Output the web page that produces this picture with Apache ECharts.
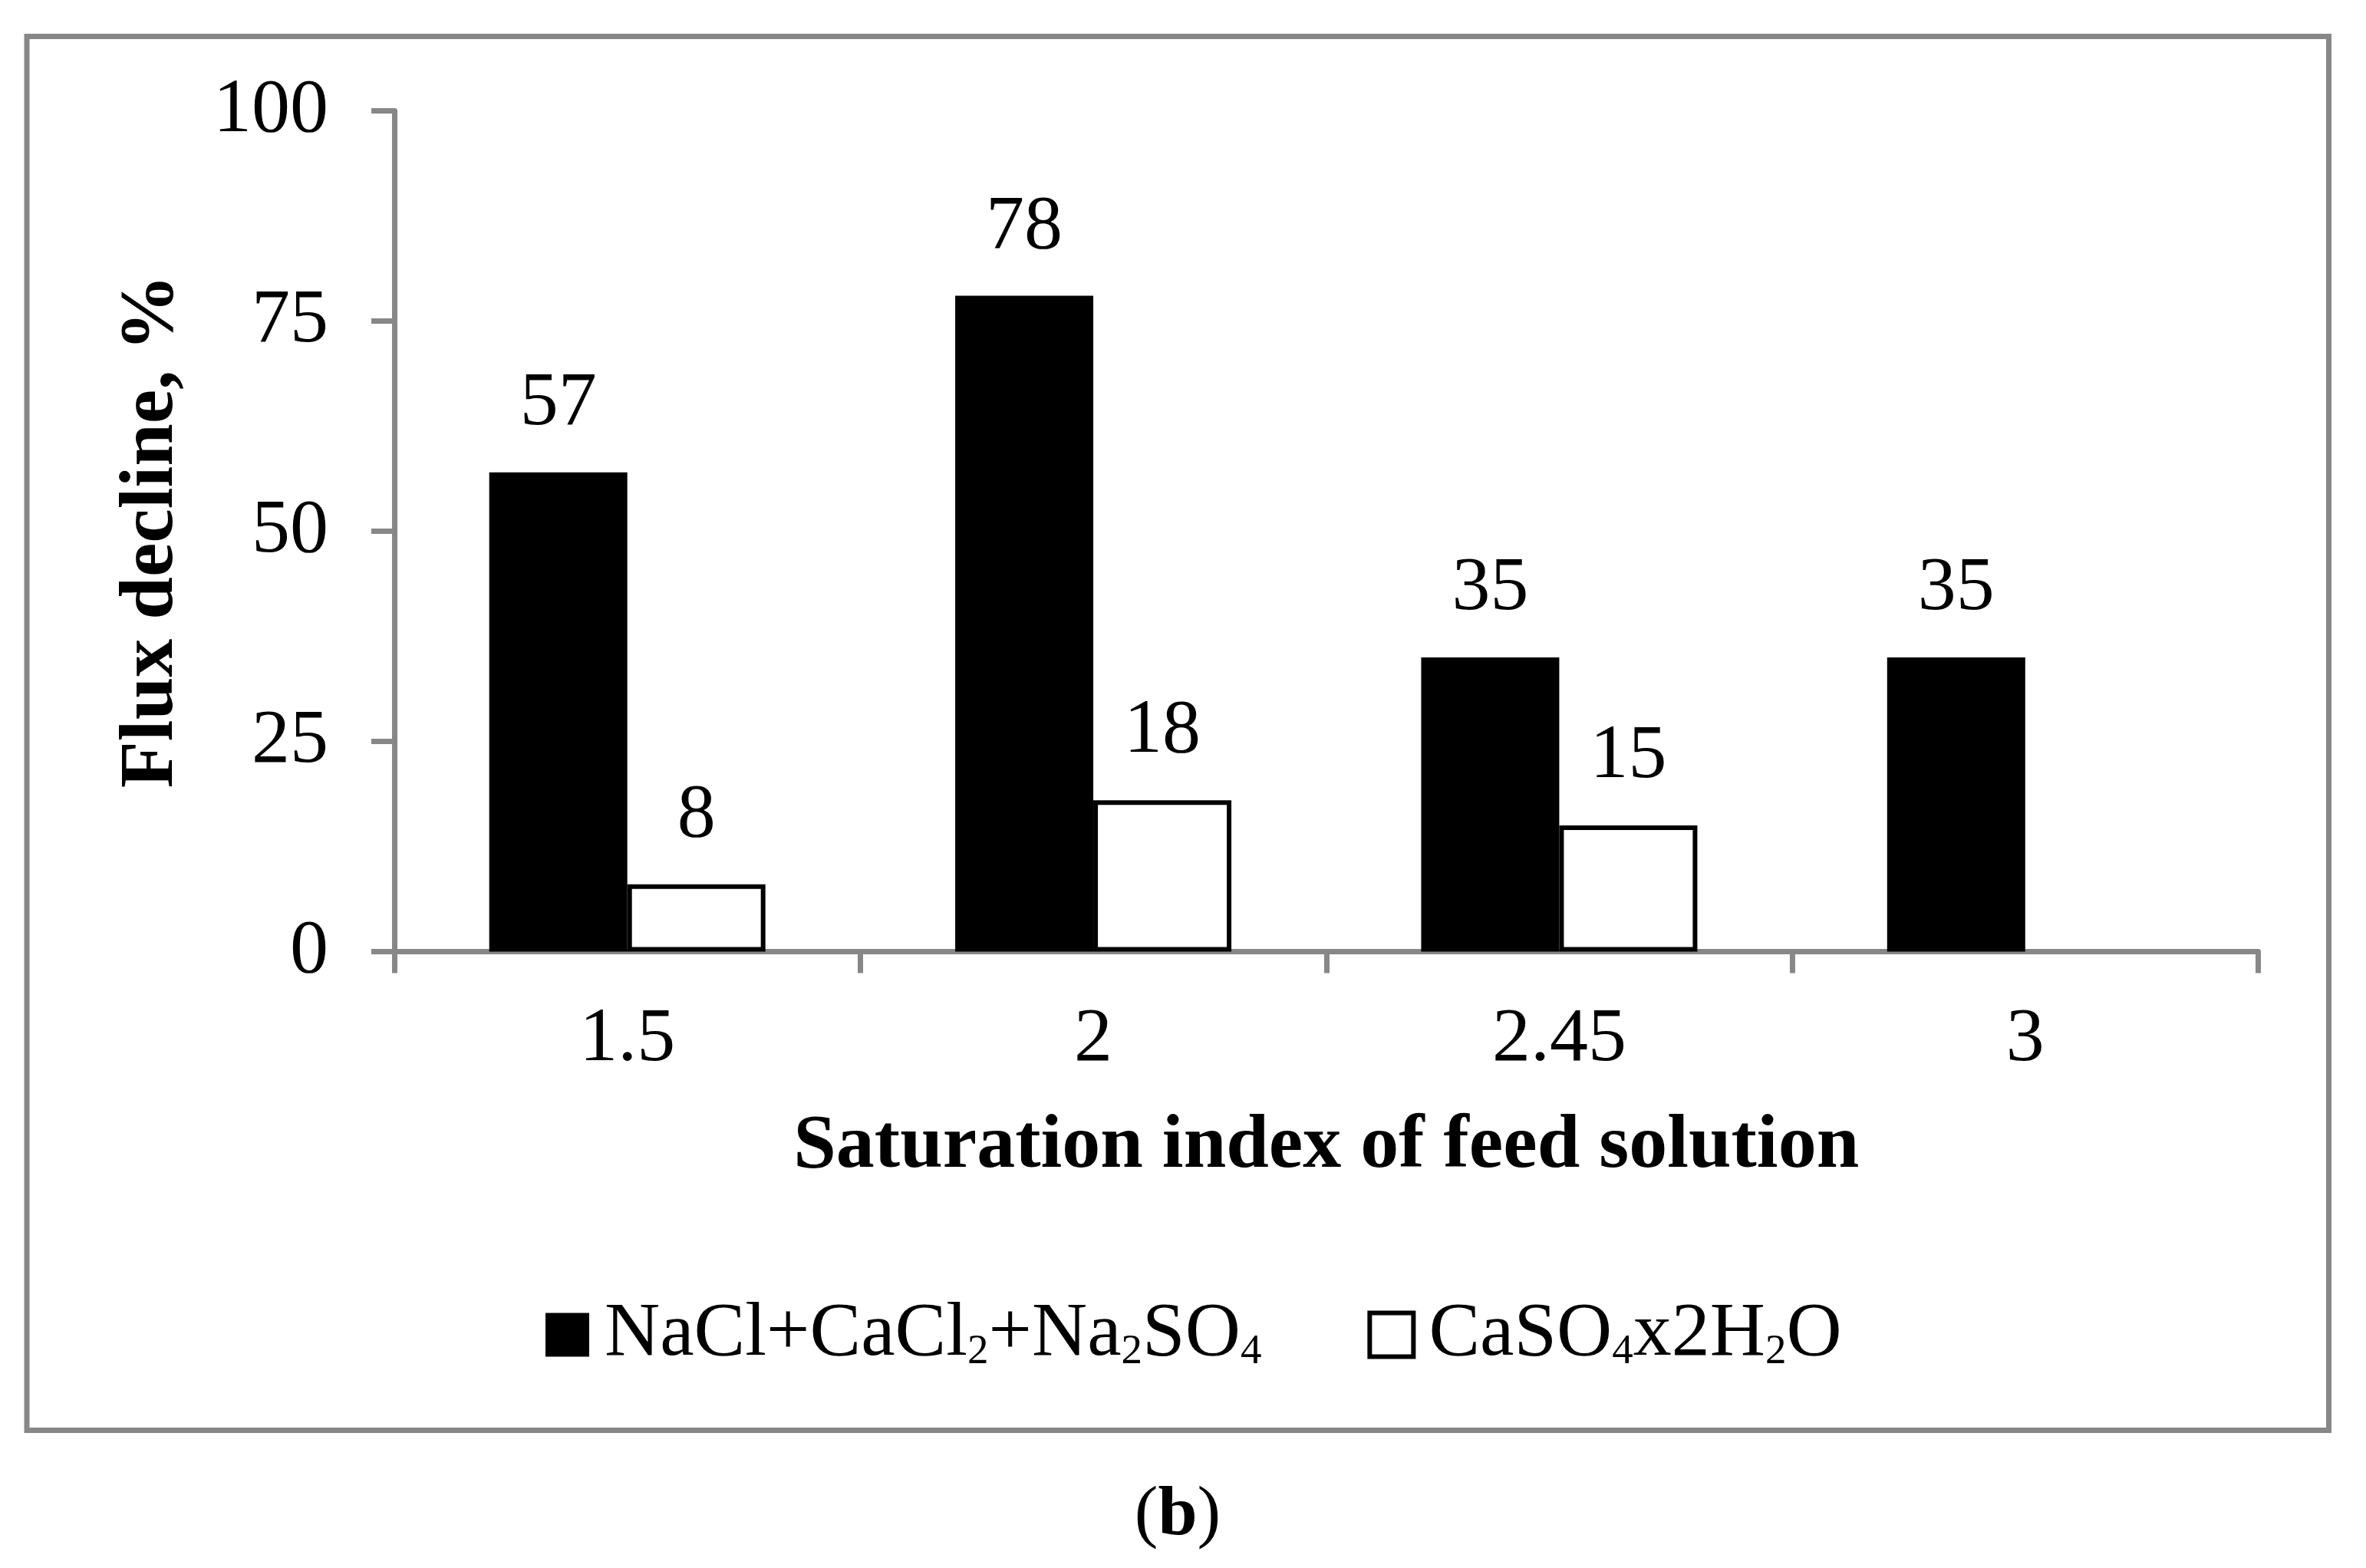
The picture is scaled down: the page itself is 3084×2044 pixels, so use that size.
<!DOCTYPE html>
<html>
<head>
<meta charset="utf-8">
<script src="https://cdn.jsdelivr.net/npm/echarts@6/dist/echarts.min.js"></script>
<style>
html,body{margin:0;padding:0;background:#fff;}
#chart{width:3084px;height:2044px;}
</style>
</head>
<body>
<div id="chart"></div>
<script>
var categories = ['1.5', '2', '2.45', '3'];
var seriesNames = ['NaCl+CaCl2+Na2SO4', 'CaSO4x2H2O'];
var mixedSalts = [57, 78, 35, 35];
var gypsum = [8, 18, 15, null];
var yTicks = [0, 25, 50, 75, 100];

var richNames = {
  'NaCl+CaCl2+Na2SO4': '{t|NaCl+CaCl}{s|2}{t|+Na}{s|2}{t|SO}{s|4}',
  'CaSO4x2H2O': '{t|CaSO}{s|4}{t|x2H}{s|2}{t|O}'
};

var FONT = '"Liberation Serif", "Times New Roman", serif';
var GRAY = '#878787';

var chart = echarts.init(document.getElementById('chart'), null, {renderer: 'canvas'});
chart.setOption({
  backgroundColor: '#ffffff',
  animation: false,
  textStyle: {fontFamily: FONT, color: '#000'},
  grid: {left: 514, right: 140.5, top: 144.5, bottom: 803.5, containLabel: false},
  graphic: [
    {type: 'rect', shape: {x: 35, y: 47.5, width: 3000.5, height: 1817}, style: {fill: null, stroke: GRAY, lineWidth: 7}, z: -1},
    {type: 'text', x: 1535, y: 1976, style: {text: '{n|(}{b|b}{n|)}', align: 'center', verticalAlign: 'middle',
      rich: {n: {fontFamily: FONT, fontSize: 92, fill: '#000'}, b: {fontFamily: FONT, fontSize: 92, fontWeight: 'bold', fill: '#000'}}}}
  ],
  legend: {
    left: 706, top: 1685,
    itemWidth: 57, itemHeight: 57, itemGap: 138,
    icon: 'rect',
    data: [
      {name: seriesNames[0]},
      {name: seriesNames[1], itemStyle: {color: '#ffffff', borderColor: '#000000', borderWidth: 6}}
    ],
    formatter: function (name) { return richNames[name]; },
    textStyle: {
      padding: [0, 0, 0, 15],
      rich: {
        t: {fontFamily: FONT, fontSize: 100, lineHeight: 100, color: '#000'},
        s: {fontFamily: FONT, fontSize: 55, lineHeight: 69, verticalAlign: 'bottom', color: '#000'}
      }
    }
  },
  xAxis: {
    type: 'category',
    data: categories,
    name: 'Saturation index of feed solution',
    nameLocation: 'middle',
    nameGap: 205,
    nameTextStyle: {fontFamily: FONT, fontSize: 100, fontWeight: 'bold', color: '#000'},
    axisLine: {lineStyle: {color: GRAY, width: 7}},
    axisTick: {show: true, length: 28, lineStyle: {color: GRAY, width: 7}},
    axisLabel: {fontFamily: FONT, fontSize: 100, color: '#000', margin: 65},
    splitLine: {show: false}
  },
  yAxis: {
    type: 'value',
    min: 0, max: 100, interval: 25,
    name: 'Flux decline, %',
    nameLocation: 'middle',
    nameGap: 266,
    nameRotate: 90,
    nameTextStyle: {fontFamily: FONT, fontSize: 100, fontWeight: 'bold', color: '#000'},
    axisLine: {show: true, lineStyle: {color: GRAY, width: 7}},
    axisTick: {show: true, length: 30, lineStyle: {color: GRAY, width: 7}},
    axisLabel: {fontFamily: FONT, fontSize: 100, color: '#000', margin: 86,
      formatter: function (v) { return yTicks.indexOf(v) >= 0 ? String(v) : ''; }},
    splitLine: {show: false}
  },
  series: [
    {
      name: seriesNames[0], type: 'bar', data: mixedSalts,
      barWidth: 180, barGap: '0%',
      itemStyle: {color: '#000000', borderColor: '#000000', borderWidth: 0},
      label: {show: true, position: 'top', distance: 39, fontFamily: FONT, fontSize: 100, color: '#000'}
    },
    {
      name: seriesNames[1], type: 'bar', data: gypsum,
      barWidth: 180, barGap: '0%',
      itemStyle: {color: '#ffffff', borderColor: '#000000', borderWidth: 6},
      label: {show: true, position: 'top', distance: 39, fontFamily: FONT, fontSize: 100, color: '#000'}
    }
  ]
});
</script>
</body>
</html>
